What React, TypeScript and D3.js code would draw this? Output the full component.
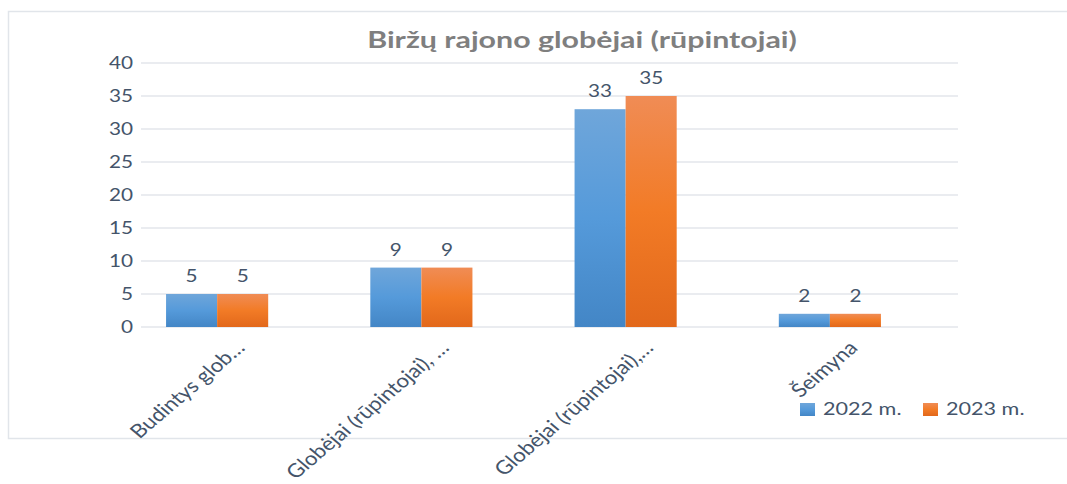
import React from 'react'
import * as d3 from 'd3'

const categories = ['Budintys glob…', 'Globėjai (rūpintojai), …', 'Globėjai (rūpintojai),…', 'Šeimyna']
const series = ['2022 m.', '2023 m.']
const values2022 = [5, 9, 33, 2]
const values2023 = [5, 9, 35, 2]
const yTicks = [0, 5, 10, 15, 20, 25, 30, 35, 40]

const W = 1067
const H = 484
const FONT = 'Lato, "Open Sans", sans-serif'
const TEXT = '#44546a'
// the reference picture is stretched sideways, so text gets a horizontal scale
const SX = 1.22

export default function App() {
  const svgRef = React.useRef<SVGSVGElement>(null)

  React.useEffect(() => {
    const svg = d3.select(svgRef.current!)
    svg.selectAll('*').remove()

    // gradients for the bars (lighter on top)
    const defs = svg.append('defs')
    const mkGrad = (id: string, stops: [number, string][]) => {
      const g = defs.append('linearGradient').attr('id', id)
        .attr('x1', 0).attr('y1', 0).attr('x2', 0).attr('y2', 1)
      stops.forEach(([o, c]) => g.append('stop').attr('offset', o).attr('stop-color', c))
    }
    mkGrad('gBlue', [[0, '#6fa6da'], [0.5, '#559ada'], [1, '#4386c6']])
    mkGrad('gOrange', [[0, '#f08c55'], [0.5, '#f27b26'], [1, '#e2681b']])

    // chart frame
    svg.append('rect')
      .attr('x', 8.5).attr('y', 11.5).attr('width', 1070).attr('height', 427)
      .attr('fill', '#fff').attr('stroke', '#e1e5ea').attr('stroke-width', 1.5)

    const y = d3.scaleLinear().domain([0, 40]).range([327, 63])
    const x = d3.scaleBand<string>().domain(categories).range([115, 932])
      .paddingInner(0.5).paddingOuter(0.25)
    const x1 = d3.scaleBand<string>().domain(series).range([0, x.bandwidth()])

    const txt = (px: number, py: number, sx = SX) =>
      svg.append('text')
        .attr('transform', `translate(${px},${py}) scale(${sx},1)`)
        .attr('font-family', FONT).attr('font-size', 17).attr('fill', TEXT)

    // title
    txt(582, 48, 1.32)
      .attr('text-anchor', 'middle')
      .attr('font-weight', 700).attr('font-size', 23)
      .attr('fill', '#7f7f7f')
      .text('Biržų rajono globėjai (rūpintojai)')

    // gridlines + tick labels
    yTicks.forEach(t => {
      svg.append('line')
        .attr('x1', 141).attr('x2', 958).attr('y1', y(t)).attr('y2', y(t))
        .attr('stroke', '#e3e6eb').attr('stroke-width', 1.5)
      txt(133, y(t))
        .attr('dy', '0.35em').attr('text-anchor', 'end')
        .text(t)
    })

    // bars
    const data = [values2022, values2023]
    const fills = ['url(#gBlue)', 'url(#gOrange)']
    series.forEach((s, si) => {
      svg.append('g').selectAll('rect')
        .data(categories)
        .join('rect')
        .attr('x', c => x(c)! + x1(s)!)
        .attr('y', (c, i) => y(data[si][i]))
        .attr('width', x1.bandwidth())
        .attr('height', (c, i) => y(0) - y(data[si][i]))
        .attr('fill', fills[si])
      categories.forEach((c, i) => {
        txt(x(c)! + x1(s)! + x1.bandwidth() / 2, y(data[si][i]) - 12)
          .attr('text-anchor', 'middle')
          .text(data[si][i])
      })
    })

    // category labels, rotated
    categories.forEach(c => {
      const cx = x(c)! + x.bandwidth() / 2 + 29
      svg.append('text')
        .attr('transform', `translate(${cx},${349}) scale(1.18,1) rotate(-45)`)
        .attr('text-anchor', 'end')
        .attr('font-family', FONT).attr('font-size', 19).attr('fill', TEXT)
        .text(c)
    })

    // legend
    const legX = [800, 923]
    series.forEach((s, i) => {
      svg.append('rect')
        .attr('x', legX[i]).attr('y', 403).attr('width', 15).attr('height', 13)
        .attr('fill', fills[i])
      txt(legX[i] + 23, 415, 1.2)
        .attr('font-size', 18)
        .text(s)
    })
  }, [])

  return (
    <svg ref={svgRef} width={W} height={H}
      style={{ position: 'absolute', left: 0, top: 0, background: '#fff' }} />
  )
}
